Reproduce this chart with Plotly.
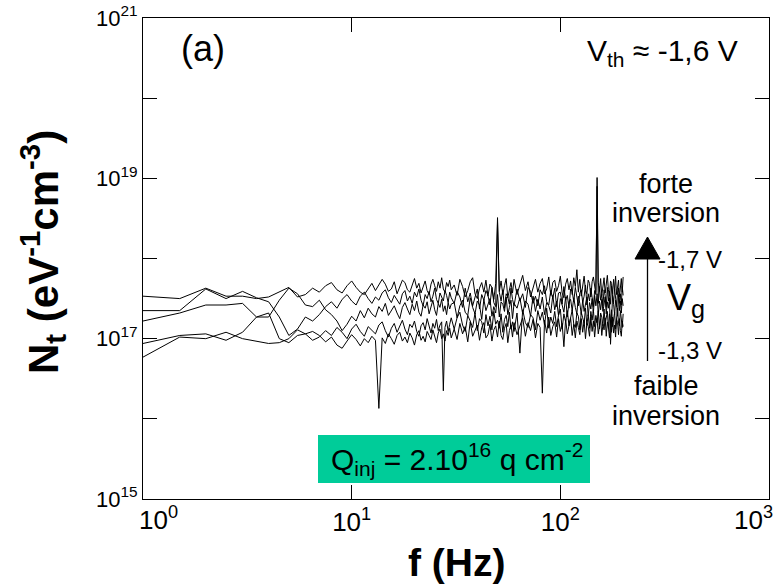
import plotly.graph_objects as go

# Frequency grid (Hz)
freq_hz = [1, 1.5, 2, 2.5, 3, 3.5, 4, 4.5, 5, 5.5, 6, 6.5, 7, 7.5, 8, 8.5, 9, 9.5, 10, 10.5,
           11, 11.5, 12, 12.5, 13, 13.5, 14, 14.5, 15, 15.5, 16, 16.5, 17, 17.5, 18, 18.5, 19, 19.5, 20, 20.5,
           21, 21.5, 22, 22.5, 23, 23.5, 24, 24.5, 25, 25.5, 26, 26.5, 27, 27.5, 28, 28.5, 29, 29.5, 30,
           31, 32, 33, 34, 35, 36, 37, 38, 39, 40, 41, 42, 43, 44, 45, 46, 47, 48, 49, 50,
           51, 52, 53, 54, 55, 56, 57, 58, 59, 60,
           62, 64, 66, 68, 70, 72, 74, 76, 78, 80, 82, 84, 86, 88, 90, 92, 94, 96, 98, 100,
           102, 104, 106, 108, 110, 112, 114, 116, 118, 120, 122, 124, 126, 128, 130, 132, 134, 136, 138, 140,
           142, 144, 146, 148, 150, 152, 154, 156, 158, 160, 162, 164, 166, 168, 170, 172, 174, 176, 178, 180,
           182, 184, 186, 188, 190, 192, 194, 196, 198, 200]

# log10(Nt), one list per gate voltage (top: -1.7 V ... bottom: -1.3 V)
log_nt_vg_m17 = [17.53, 17.50, 17.63, 17.53, 17.53, 17.50, 17.52, 17.58, 17.64, 17.52, 17.55, 17.63, 17.58,
                 17.66, 17.70, 17.61, 17.57, 17.66, 17.72, 17.64, 17.58, 17.55, 17.63,
                 17.69, 17.60, 17.67, 17.74, 17.68, 17.59, 17.62, 17.71, 17.56, 17.65,
                 17.73, 17.70, 17.61, 17.58, 17.67, 17.75, 17.63, 17.69, 17.57, 17.64,
                 17.72, 17.60, 17.55, 17.68, 17.74, 17.66, 17.59, 17.71, 17.63, 17.76,
                 17.62, 17.58, 17.70, 17.65, 17.73, 17.61,
                 17.67, 17.54, 17.74, 17.65, 17.52, 17.60, 17.71, 17.76, 17.56, 17.50,
                 17.63, 17.70, 17.58, 17.73, 17.53, 17.68, 17.64, 17.49, 17.69, 18.51,
                 17.59, 17.72, 17.55, 17.66, 17.75, 17.51, 17.61, 17.70, 17.57, 17.74,
                 17.55, 17.67, 17.79, 17.60, 17.71, 17.52, 17.65, 17.74, 17.58, 17.69,
                 17.75, 17.56, 17.62, 17.77, 17.54, 17.70, 17.73, 17.59, 17.66, 17.78,
                 17.57, 17.51, 17.68, 17.75, 17.61, 17.72, 17.55, 17.76, 17.65, 17.86,
                 17.58, 17.74, 17.53, 17.67, 17.78, 17.60, 17.56, 17.73, 17.69, 17.52,
                 17.71, 17.77, 17.62, 17.55, 19.01, 17.70, 17.59, 17.75, 17.54, 17.68,
                 17.76, 17.57, 17.66, 17.79, 17.61, 17.53, 17.72, 17.69, 17.56, 17.74,
                 17.60, 17.78, 17.55, 17.67, 17.73, 17.52, 17.70, 17.75, 17.58, 17.77]
log_nt_vg_m16 = [17.35, 17.35, 17.62, 17.50, 17.59, 17.51, 17.46, 17.27, 17.04, 17.12, 17.27, 17.22, 17.30,
                 17.40, 17.46, 17.38, 17.49, 17.55, 17.47, 17.42, 17.53, 17.58, 17.50,
                 17.44, 17.52, 17.48, 17.57, 17.61, 17.51, 17.45, 17.54, 17.49, 17.43,
                 17.56, 17.60, 17.47, 17.53, 17.44, 17.58, 17.52, 17.62, 17.48, 17.41,
                 17.55, 17.50, 17.59, 17.46, 17.53, 17.63, 17.49, 17.44, 17.57, 17.52,
                 17.47, 17.60, 17.54, 17.45, 17.58, 17.51,
                 17.44, 17.59, 17.52, 17.39, 17.63, 17.46, 17.57, 17.41, 17.51, 17.62,
                 17.37, 17.55, 17.48, 17.60, 17.54, 17.42, 17.64, 17.45, 17.40, 18.45,
                 17.58, 17.47, 17.61, 17.38, 17.56, 17.52, 17.43, 17.63, 17.49, 17.41,
                 17.62, 17.47, 17.56, 17.39, 17.64, 17.59, 17.44, 17.53, 17.41, 17.61,
                 17.55, 17.66, 17.46, 17.42, 17.60, 17.50, 17.63, 17.40, 17.57, 17.58,
                 17.43, 17.65, 17.48, 17.54, 17.38, 17.62, 17.59, 17.46, 17.64, 17.49,
                 17.41, 17.57, 17.61, 17.45, 17.53, 17.67, 17.42, 17.56, 17.47, 17.63,
                 17.50, 17.40, 17.60, 17.58, 18.90, 17.44, 17.65, 17.48, 17.55, 17.41,
                 17.61, 17.54, 17.39, 17.64, 17.47, 17.59, 17.43, 17.66, 17.53, 17.45,
                 17.62, 17.49, 17.40, 17.58, 17.63, 17.44, 17.56, 17.42, 17.65, 17.54]
log_nt_vg_m15 = [17.22, 17.32, 17.42, 17.42, 17.44, 17.27, 17.27, 17.48, 17.63, 17.56, 17.42, 17.40, 17.48,
                 17.36, 17.30, 17.22, 17.10, 17.18, 17.28, 17.22, 17.35, 17.26, 17.38,
                 17.31, 17.27, 17.40, 17.34, 17.44, 17.29, 17.36, 17.41, 17.32, 17.25,
                 17.39, 17.45, 17.37, 17.30, 17.43, 17.35, 17.47, 17.33, 17.28, 17.42,
                 17.38, 17.46, 17.31, 17.40, 17.48, 17.36, 17.29, 17.44, 17.39, 17.49,
                 17.34, 17.41, 17.30, 17.45, 17.37, 17.43,
                 17.45, 17.26, 17.41, 17.48, 17.33, 17.29, 17.51, 17.39, 17.31, 17.47,
                 17.42, 17.24, 17.49, 17.35, 17.44, 17.50, 17.28, 17.40, 17.32, 17.55,
                 17.27, 17.46, 17.43, 17.34, 17.52, 17.30, 17.39, 17.48, 17.25, 17.44,
                 17.38, 17.51, 17.31, 17.47, 17.43, 17.28, 17.53, 17.34, 17.49, 17.37,
                 17.52, 17.30, 17.45, 17.41, 17.32, 17.54, 17.36, 17.47, 17.29, 17.50,
                 17.42, 17.33, 17.52, 17.27, 17.46, 17.49, 17.35, 17.51, 17.39, 17.31,
                 17.53, 17.44, 17.30, 17.48, 17.34, 17.43, 17.52, 17.28, 17.45, 17.37,
                 17.50, 17.32, 17.54, 17.41, 17.56, 17.29, 17.47, 17.36, 17.49, 17.34,
                 17.44, 17.52, 17.31, 17.46, 17.38, 17.51, 16.93, 17.33, 17.53, 17.43,
                 17.30, 17.48, 17.42, 17.28, 17.55, 17.35, 17.47, 17.32, 17.50, 17.41]
log_nt_vg_m14 = [16.94, 17.04, 17.06, 16.98, 17.08, 17.27, 17.32, 17.00, 16.95, 17.04, 17.06, 16.98, 17.02,
                 17.10, 17.04, 17.14, 17.08, 17.00, 17.12, 17.18, 17.09, 17.03, 17.15,
                 17.11, 17.06, 17.17, 17.21, 17.10, 17.02, 17.13, 17.19, 17.08, 17.16,
                 17.23, 17.12, 17.05, 17.18, 17.14, 17.22, 17.09, 17.03, 17.16, 17.20,
                 17.11, 17.25, 17.15, 17.07, 17.19, 17.13, 17.24, 17.10, 17.17, 17.21,
                 16.35, 17.14, 17.22, 17.09, 17.18, 17.26,
                 17.12, 17.26, 17.33, 17.17, 17.09, 17.29, 17.22, 17.14, 17.32, 17.10,
                 17.25, 17.21, 17.07, 17.30, 17.16, 17.28, 17.11, 17.34, 17.18, 17.23,
                 17.13, 17.31, 17.08, 17.24, 17.29, 17.15, 17.33, 17.12, 17.21, 17.09,
                 17.32, 16.82, 17.36, 17.20, 17.14, 17.30, 17.26, 17.11, 17.35, 17.23,
                 17.33, 17.17, 17.38, 17.13, 17.27, 17.19, 17.34, 17.15, 17.29, 17.37,
                 17.12, 17.31, 17.21, 17.35, 17.16, 17.25, 17.36, 17.18, 17.14, 17.32,
                 17.28, 17.11, 17.33, 17.26, 17.19, 17.38, 17.17, 17.30, 17.13, 17.34,
                 17.23, 17.36, 17.15, 17.29, 17.20, 17.35, 17.12, 17.32, 17.27, 17.16,
                 17.37, 17.18, 17.25, 17.34, 17.13, 17.31, 17.21, 17.36, 17.15, 17.28,
                 17.33, 17.12, 17.30, 17.38, 17.19, 17.16, 17.35, 17.26, 17.14, 17.31]
log_nt_vg_m13 = [16.77, 17.02, 17.00, 17.08, 17.00, 16.97, 16.94, 16.95, 17.00, 17.11, 17.06, 17.09, 17.04,
                 16.96, 17.02, 16.92, 16.88, 16.97, 17.05, 16.99, 16.91, 17.00, 16.95,
                 17.03, 16.98, 16.13, 17.01, 16.94, 17.06, 17.00, 16.93, 17.04, 17.08,
                 16.97, 17.02, 16.95, 17.07, 17.01, 16.92, 17.05, 17.10, 16.98, 17.03,
                 16.96, 17.09, 17.04, 16.99, 17.11, 17.02, 16.95, 17.07, 17.12, 17.00,
                 17.06, 16.97, 17.10, 17.04, 17.13, 17.01,
                 17.12, 16.99, 17.19, 17.06, 17.15, 16.96, 17.21, 17.03, 17.09, 17.17,
                 16.98, 17.14, 17.20, 17.01, 17.05, 17.18, 16.97, 17.11, 17.16, 17.02,
                 17.22, 17.04, 16.99, 17.13, 17.19, 16.95, 17.10, 17.17, 17.02, 17.20,
                 17.05, 17.17, 17.26, 17.03, 17.20, 17.10, 17.24, 17.01, 17.19, 17.14,
                 16.32, 17.23, 17.07, 17.27, 17.04, 17.15, 17.21, 17.02, 17.25, 17.09,
                 17.19, 16.90, 17.24, 17.06, 17.16, 17.26, 17.04, 17.18, 17.01, 17.22,
                 17.14, 17.05, 17.25, 17.08, 17.23, 17.00, 17.20, 17.15, 17.03, 17.27,
                 17.09, 17.22, 17.02, 17.19, 17.24, 17.06, 17.16, 17.25, 17.04, 17.18,
                 17.11, 17.26, 17.03, 17.21, 17.14, 17.01, 17.23, 17.08, 17.27, 17.07,
                 17.17, 17.02, 17.24, 17.20, 17.05, 17.25, 17.10, 17.03, 17.22, 17.15]

series = [log_nt_vg_m17, log_nt_vg_m16, log_nt_vg_m15, log_nt_vg_m14, log_nt_vg_m13]

# x tick labels: inner ones drawn by the axis, the two end ones kept inside the page
x_tick_vals = [1, 10, 100, 1000]
x_tick_text = ["", "10<sup>1</sup>", "10<sup>2</sup>", ""]
x_end_labels = [(0, "10<sup>0</sup>", "left"), (3, "10<sup>3</sup>", "right")]
y_tick_vals = [1e15, 1e16, 1e17, 1e18, 1e19, 1e20, 1e21]
y_tick_text = ["10<sup>15</sup>", "", "10<sup>17</sup>", "", "10<sup>19</sup>", "", "10<sup>21</sup>"]

FONT = "Liberation Sans, Arial, sans-serif"

fig = go.Figure()
for vals in series:
    fig.add_trace(go.Scatter(x=freq_hz, y=[10 ** v for v in vals], mode="lines",
                             line=dict(color="black", width=1), showlegend=False,
                             hoverinfo="skip"))

L, R, T, B = 143, 6, 18, 88
W, H = 775, 587
PW, PH = W - L - R, H - T - B


def px(xp):
    return (xp - L) / PW


def py(yp):
    return (H - B - yp) / PH


fig.update_layout(
    width=W, height=H,
    margin=dict(l=L, r=R, t=T, b=B),
    paper_bgcolor="white", plot_bgcolor="white",
    font=dict(family=FONT, color="black"),
    xaxis=dict(type="log", range=[0, 3], tickvals=x_tick_vals, ticktext=x_tick_text,
               ticks="inside", ticklen=14, tickcolor="black", tickwidth=1,
               showline=True, linecolor="black", linewidth=1, mirror="ticks",
               showgrid=False, zeroline=False, tickfont=dict(size=26, family=FONT),
               automargin=False),
    yaxis=dict(type="log", range=[15, 21], tickvals=y_tick_vals, ticktext=y_tick_text,
               ticks="inside", ticklen=14, tickcolor="black", tickwidth=1,
               showline=True, linecolor="black", linewidth=1, mirror="ticks",
               showgrid=False, zeroline=False, tickfont=dict(size=22, family=FONT),
               ticklabeloverflow="allow", automargin=False),
)


def label(text, xp, yp, size, **kw):
    d = dict(text=text, x=px(xp), y=py(yp), xref="paper", yref="paper",
             xanchor="center", yanchor="middle", showarrow=False,
             font=dict(size=size, family=FONT, color="black"))
    d.update(kw)
    return d


ann = [
    label("<b>N<sub>t</sub> (eV<sup>-1</sup>cm<sup>-3</sup>)</b>", 42, 252, 42, textangle=-90),
    label("<b>f (Hz)</b>", 456, 562, 39),
    label("(a)", 203, 48, 36),
    label("V<sub>th</sub> ≈ -1,6 V", 662, 52, 30),
    label("forte", 666, 184, 27),
    label("inversion", 666, 213, 27),
    label("-1,7 V", 690, 259, 24),
    label("V<sub>g</sub>", 686, 300, 36),
    label("-1,3 V", 690, 350, 24),
    label("faible", 666, 386, 27),
    label("inversion", 666, 416, 27),
    label("Q<sub>inj</sub> = 2.10<sup>16</sup> q cm<sup>-2</sup>", 457, 459, 30),
]
for xv, txt, anchor in x_end_labels:
    ann.append(dict(text=txt, x=xv, xref="x", y=py(518), yref="paper",
                    xanchor=anchor, yanchor="middle", showarrow=False,
                    xshift=-6 if anchor == "left" else 6,
                    font=dict(size=26, family=FONT, color="black")))

shapes = [
    dict(type="rect", xref="paper", yref="paper", x0=px(318), x1=px(590), y0=py(483), y1=py(435),
         fillcolor="#00CC99", line=dict(width=0), layer="below"),
    dict(type="line", xref="paper", yref="paper", x0=px(647.5), x1=px(647.5), y0=py(361), y1=py(258),
         line=dict(color="black", width=1.3)),
    dict(type="path", xref="paper", yref="paper",
         path=f"M {px(635)} {py(259)} L {px(660)} {py(259)} L {px(647.5)} {py(237)} Z",
         fillcolor="black", line=dict(color="black", width=1)),
]

fig.update_layout(annotations=ann, shapes=shapes)
fig.write_html("out.html", config={"displayModeBar": False},
               post_script="document.body.style.margin='0px';")
